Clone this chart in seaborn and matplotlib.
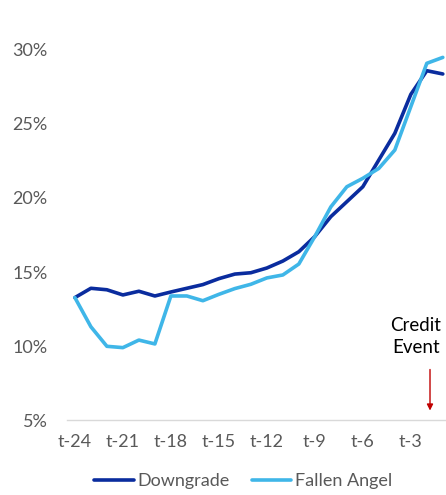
import numpy as np
import pandas as pd
import seaborn as sns
import matplotlib.pyplot as plt

# months before credit event
months = [f"t-{m}" for m in range(24, 0, -1)]

downgrade = [13.27, 13.9, 13.8, 13.45, 13.7, 13.38, 13.65, 13.9, 14.15, 14.55,
             14.86, 14.95, 15.27, 15.74, 16.37, 17.4, 18.74, 19.75, 20.76, 22.57,
             24.37, 27.0, 28.6, 28.38]
fallen_angel = [13.27, 11.3, 9.98, 9.89, 10.4, 10.14, 13.38, 13.38, 13.06, 13.49,
                13.88, 14.17, 14.6, 14.8, 15.54, 17.4, 19.4, 20.76, 21.33, 22.0,
                23.24, 26.17, 29.1, 29.5]

series_names = ["Downgrade", "Fallen Angel"]
colors = ["#0a2c9e", "#3fb6e8"]

df = pd.DataFrame({
    "month": months * 2,
    "idx": list(range(len(months))) * 2,
    "value": downgrade + fallen_angel,
    "series": [series_names[0]] * len(months) + [series_names[1]] * len(months),
})

sns.set_style("white")
plt.rcParams['font.family'] = ['Lato', 'DejaVu Sans']

fig = plt.figure(figsize=(4.46, 4.95), dpi=100)
ax = fig.add_axes([0.150, 0.1515, 0.85, 0.7475])

sns.lineplot(data=df, x="idx", y="value", hue="series", palette=colors,
             linewidth=2.6, ax=ax, legend=True)

ax.set_xlim(-0.5, 23.2)
ax.set_ylim(5, 30)
ax.set_yticks([5, 10, 15, 20, 25, 30])
ax.set_yticklabels([f"{v}%" for v in [5, 10, 15, 20, 25, 30]])
ax.set_xticks(list(range(0, 24, 3)))
ax.set_xticklabels(months[::3])
ax.tick_params(axis='both', colors='#595959', labelsize=13, length=0)
ax.tick_params(axis='x', pad=10)
ax.tick_params(axis='y', pad=14)
ax.set_xlabel("")
ax.set_ylabel("")
for line in ax.get_lines():
    line.set_clip_on(False)

sns.despine(ax=ax, left=True)
ax.spines['bottom'].set_color('#d9d9d9')
ax.spines['bottom'].set_linewidth(1.0)

# credit event annotation
ax.text(21.3, 9.35, "Credit\nEvent", ha='center', va='bottom', fontsize=13.5,
        color='black', linespacing=1.3)
ax.annotate("", xy=(22.2, 5.45), xytext=(22.2, 8.6),
            arrowprops=dict(arrowstyle='-|>', color='#c00000', lw=1.0,
                            mutation_scale=9))

ax.legend(loc='upper center', bbox_to_anchor=(0.465, -0.1), ncol=2,
          frameon=False, fontsize=13, handlelength=2.2, handletextpad=0.2,
          columnspacing=1.2, labelcolor='#595959')

fig.savefig("out.png", dpi=100)
